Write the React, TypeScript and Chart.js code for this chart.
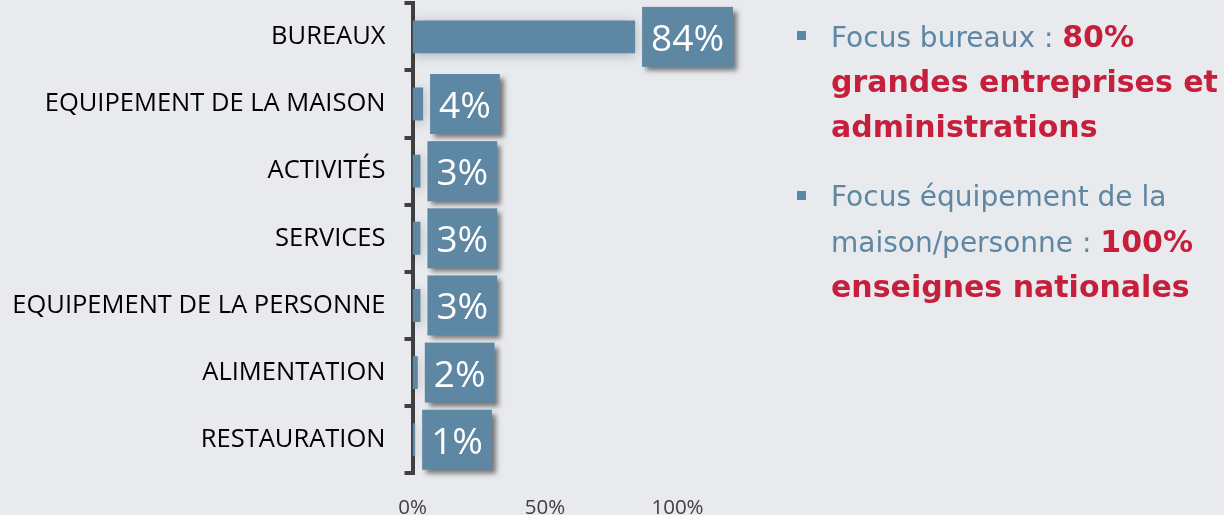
import React, { useEffect, useRef } from "react";
import { Chart, registerables } from "chart.js";

Chart.register(...registerables);

const categories = [
  "BUREAUX",
  "EQUIPEMENT DE LA MAISON",
  "ACTIVITÉS",
  "SERVICES",
  "EQUIPEMENT DE LA PERSONNE",
  "ALIMENTATION",
  "RESTAURATION",
];
const shares = [84, 4, 3, 3, 3, 2, 1];
const xTickValues = [0, 50, 100];

const BAR = "#5d87a3";
const RED = "#c61f3c";
const AXIS = "#404040";
const BG = "#e9eaee";

const boxPlugin = {
  id: "valueBoxes",
  beforeDatasetsDraw(chart: any) {
    const ctx = chart.ctx;
    ctx.save();
    ctx.shadowColor = "rgba(0,0,0,0.25)";
    ctx.shadowBlur = 12;
    ctx.shadowOffsetX = 0;
    ctx.shadowOffsetY = 2;
  },
  afterDatasetsDraw(chart: any) {
    const ctx = chart.ctx;
    ctx.restore();
    const meta = chart.getDatasetMeta(0);
    ctx.save();
    ctx.font = "37px 'Open Sans'";
    meta.data.forEach((bar: any, i: number) => {
      const text = shares[i] + "%";
      const w = ctx.measureText(text).width + 18;
      const h = 60;
      const x = bar.x + 7;
      const y = bar.y - h / 2;
      ctx.save();
      ctx.shadowColor = "rgba(0,0,0,0.5)";
      ctx.shadowBlur = 5;
      ctx.shadowOffsetX = 4;
      ctx.shadowOffsetY = 4;
      ctx.fillStyle = BAR;
      ctx.fillRect(x, y, w, h);
      ctx.restore();
      ctx.fillStyle = "#ffffff";
      ctx.textAlign = "center";
      ctx.textBaseline = "alphabetic";
      ctx.fillText(text, x + w / 2, bar.y + 14);
    });
    ctx.restore();
  },
};

export default function App() {
  const canvasRef = useRef<HTMLCanvasElement | null>(null);

  useEffect(() => {
    if (!canvasRef.current) return;
    const chart = new Chart(canvasRef.current, {
      type: "bar",
      data: {
        labels: categories,
        datasets: [
          {
            data: shares,
            backgroundColor: BAR,
            borderWidth: 0,
            barPercentage: 0.49,
            categoryPercentage: 1,
          },
        ],
      },
      options: {
        indexAxis: "y",
        responsive: false,
        animation: false,
        devicePixelRatio: 1,
        layout: { padding: { top: 3.3, right: 546.5, bottom: 0, left: 0 } },
        plugins: { legend: { display: false }, tooltip: { enabled: false } },
        scales: {
          x: {
            type: "linear",
            min: 0,
            max: 100,
            grid: { display: false, drawTicks: false, tickLength: 0 },
            border: { display: false },
            afterBuildTicks: (scale: any) => {
              scale.ticks = xTickValues.map((v) => ({ value: v }));
            },
            afterFit: (scale: any) => {
              scale.height = 41.7;
              scale.paddingLeft = 0;
              scale.paddingRight = 0;
            },
            ticks: {
              padding: 23,
              color: AXIS,
              font: { family: "'Open Sans'", size: 20.5 },
              callback: (v: any) => v + "%",
            },
          },
          y: {
            z: 1,
            grid: {
              display: true,
              drawOnChartArea: false,
              drawTicks: true,
              tickLength: 8,
              offset: true,
              color: AXIS,
              lineWidth: 4,
            },
            border: { display: true, color: AXIS, width: 4 },
            afterFit: (scale: any) => {
              scale.width = 412.5;
              scale.paddingTop = 0;
              scale.paddingBottom = 0;
            },
            ticks: {
              padding: 19,
              color: "#000000",
              font: { family: "'Open Sans'", size: 25.5 },
            },
          },
        },
      },
      plugins: [boxPlugin],
    } as any);
    return () => chart.destroy();
  }, []);

  const line = (top: number, content: React.ReactNode) => (
    <div
      style={{
        position: "absolute",
        left: 831,
        top,
        lineHeight: "40px",
        whiteSpace: "nowrap",
        fontFamily: "'DejaVu Sans'",
        fontSize: 28,
        color: BAR,
      }}
    >
      {content}
    </div>
  );
  const red = (t: string) => (
    <span style={{ color: RED, fontWeight: "bold", fontSize: 30 }}>{t}</span>
  );
  const bullet = (top: number) => (
    <div
      style={{
        position: "absolute",
        left: 797,
        top,
        width: 9,
        height: 9,
        background: BAR,
      }}
    />
  );

  return (
    <div
      style={{
        position: "fixed",
        left: 0,
        top: 0,
        width: 1224,
        height: 515,
        background: BG,
        overflow: "hidden",
      }}
    >
      <canvas
        ref={canvasRef}
        width={1224}
        height={515}
        style={{ position: "absolute", left: 0, top: 0, width: 1224, height: 515 }}
      />
      {bullet(31)}
      {line(47 - 30, <>Focus bureaux : {red("80%")}</>)}
      {line(92 - 30, red("grandes entreprises et"))}
      {line(137 - 30, red("administrations"))}
      {bullet(191)}
      {line(207 - 30, "Focus équipement de la")}
      {line(252 - 30, <>maison/personne : {red("100%")}</>)}
      {line(297 - 30, red("enseignes nationales"))}
    </div>
  );
}
